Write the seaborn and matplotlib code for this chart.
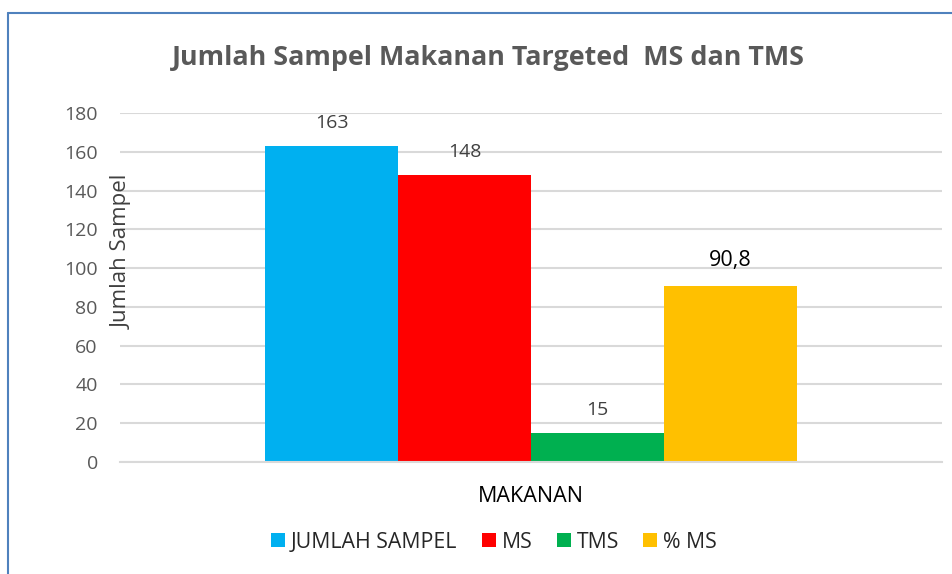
import matplotlib
matplotlib.use("Agg")
import matplotlib.pyplot as plt
import seaborn as sns
import pandas as pd
from matplotlib.lines import Line2D

# data
kategori = ["MAKANAN"]
seri = ["JUMLAH SAMPEL", "MS", "TMS", "% MS"]
nilai = [163, 148, 15, 90.8]
label_nilai = ["163", "148", "15", "90,8"]
warna = ["#00B0F0", "#FF0000", "#00B050", "#FFC000"]
yticks = [0, 20, 40, 60, 80, 100, 120, 140, 160, 180]

df = pd.DataFrame({
    "kategori": kategori * len(seri),
    "seri": seri,
    "nilai": nilai,
})

sns.set_theme(style="white")
plt.rcParams["font.family"] = ["Open Sans", "DejaVu Sans"]

fig = plt.figure(figsize=(9.52, 5.74), dpi=100)
ax = fig.add_axes([120 / 952, 1 - 462 / 574, 822 / 952, 349 / 574])

sns.barplot(data=df, x="kategori", y="nilai", hue="seri", hue_order=seri,
            palette=warna, saturation=1, width=0.647, linewidth=0, ax=ax, legend=True)

ax.set_xlim(-0.5, 0.5)
ax.set_ylim(0, 180)
ax.set_yticks(yticks)
ax.yaxis.grid(True, color="#D9D9D9", linewidth=1.5)
ax.set_axisbelow(True)
for s in ["top", "right", "left"]:
    ax.spines[s].set_visible(False)
ax.spines["bottom"].set_color("#D9D9D9")
ax.spines["bottom"].set_linewidth(1.5)
ax.tick_params(axis="y", length=0, pad=16, labelsize=14, labelcolor="#595959")
ax.tick_params(axis="x", length=0, labelbottom=False)

ax.set_xlabel("MAKANAN", fontsize=15.5, color="#000000")
ax.xaxis.set_label_coords(0.5, -24 / 349)
ax.set_ylabel("Jumlah Sampel", fontsize=16, color="#404040", va="center")
ax.yaxis.set_label_coords(2 / 822, 210 / 349)

# label nilai di atas batang
for i, cont in enumerate(ax.containers):
    besar = i == 3
    ax.bar_label(cont, labels=[label_nilai[i]], padding=10 if not besar else 10.5,
                 fontsize=15.5 if besar else 14,
                 color="#000000" if besar else "#404040")

handles, labels = ax.get_legend_handles_labels()
ax.get_legend().remove()
fig.legend(handles, labels, loc="center", bbox_to_anchor=(494 / 952, 1 - 542 / 574),
           ncol=4, frameon=False, fontsize=15.3, handlelength=0.67, handleheight=0.67,
           handletextpad=0.28, columnspacing=1.13)

fig.suptitle("Jumlah Sampel Makanan Targeted  MS dan TMS", x=488 / 952, y=1 - 58 / 574,
             va="center", fontsize=19.4, fontweight="bold", color="#595959")

# bingkai chart
fig.add_artist(Line2D([8 / 952, 8 / 952], [1 - 13 / 574, -0.05], transform=fig.transFigure,
                      color="#4F81BD", linewidth=1.5))
fig.add_artist(Line2D([8 / 952, 1.05], [1 - 13 / 574, 1 - 13 / 574], transform=fig.transFigure,
                      color="#4F81BD", linewidth=1.5))

fig.savefig("out.png", dpi=100)
plt.close(fig)
